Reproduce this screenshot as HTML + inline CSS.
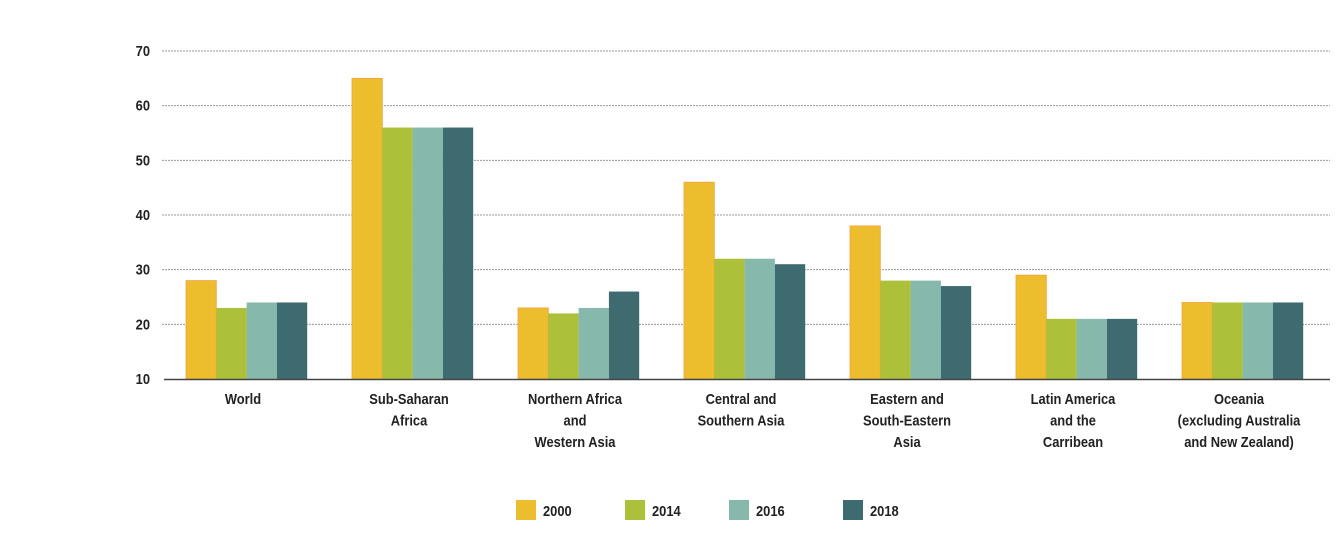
<!DOCTYPE html>
<html><head><meta charset="utf-8"><style>
body{margin:0;background:#fff;}
text{font-family:"Liberation Sans",sans-serif;fill:#222;}
</style></head><body>
<svg id="chart" width="1340" height="536" viewBox="0 0 1340 536" xmlns="http://www.w3.org/2000/svg">
<g id="grid"></g><g id="bars"></g><g id="xlabels"></g><g id="legend"></g>
</svg>
<script>
const categories=[["World"],["Sub-Saharan","Africa"],["Northern Africa","and","Western Asia"],["Central and","Southern Asia"],["Eastern and","South-Eastern","Asia"],["Latin America","and the","Carribean"],["Oceania","(excluding Australia","and New Zealand)"]];
const seriesNames=["2000","2014","2016","2018"];
const s2000=[28,65,23,46,38,29,24];
const s2014=[23,56,22,32,28,21,24];
const s2016=[24,56,23,32,28,21,24];
const s2018=[24,56,26,31,27,21,24];
const yTicks=[10,20,30,40,50,60,70];
const colors=["#ECBD2C","#ADC03A","#86B9AC","#3E6B70"];
const NS="http://www.w3.org/2000/svg";
const y=v=>379-(v-10)*328/60;
const gx=i=>186+i*166;
function mk(t,a,p){const e=document.createElementNS(NS,t);for(const k in a)e.setAttribute(k,a[k]);p.appendChild(e);return e;}
function txt(x,yy,s,anchor,p){const t=mk('text',{x:0,y:0,'text-anchor':anchor,'font-size':15,'font-weight':'bold',transform:'translate('+x+','+yy+') scale(0.86,1)'},p);t.textContent=s;return t;}
const grid=document.getElementById('grid');
yTicks.forEach(v=>{
  if(v>10){const l=mk('line',{x1:162,x2:1330,y1:y(v),y2:y(v),stroke:'#999','stroke-width':1,'stroke-dasharray':'2,1'},grid);
  
  }
  const t=txt(150,y(v)+5,String(v),'end',grid);
  
  
});
const bars=document.getElementById('bars');
[s2000,s2014,s2016,s2018].forEach((s,j)=>{
  s.forEach((v,i)=>{
    const r=mk('rect',{x:gx(i)+j*30.3,y:y(v),width:30.3,height:379-y(v),fill:colors[j],stroke:j==0?'#F0A040':'none','stroke-width':j==0?0.8:0},bars);
    
    
  });
});
const ax=mk('line',{x1:164,x2:1330,y1:379.5,y2:379.5,stroke:'#444','stroke-width':1.5},bars);


const xl=document.getElementById('xlabels');
categories.forEach((c,i)=>{
  c.forEach((line,k)=>{
    const t=txt(gx(i)+57,404+k*21.5,line,'middle',xl);
    
    
  });
});
const lg=document.getElementById('legend');
const lx=[516,625,729,843];
seriesNames.forEach((n,j)=>{
  const r=mk('rect',{x:lx[j],y:500,width:20,height:20,fill:colors[j]},lg);
  
  
  const t=txt(lx[j]+27,516,n,'start',lg);
  
  
});
</script>
</body></html>
